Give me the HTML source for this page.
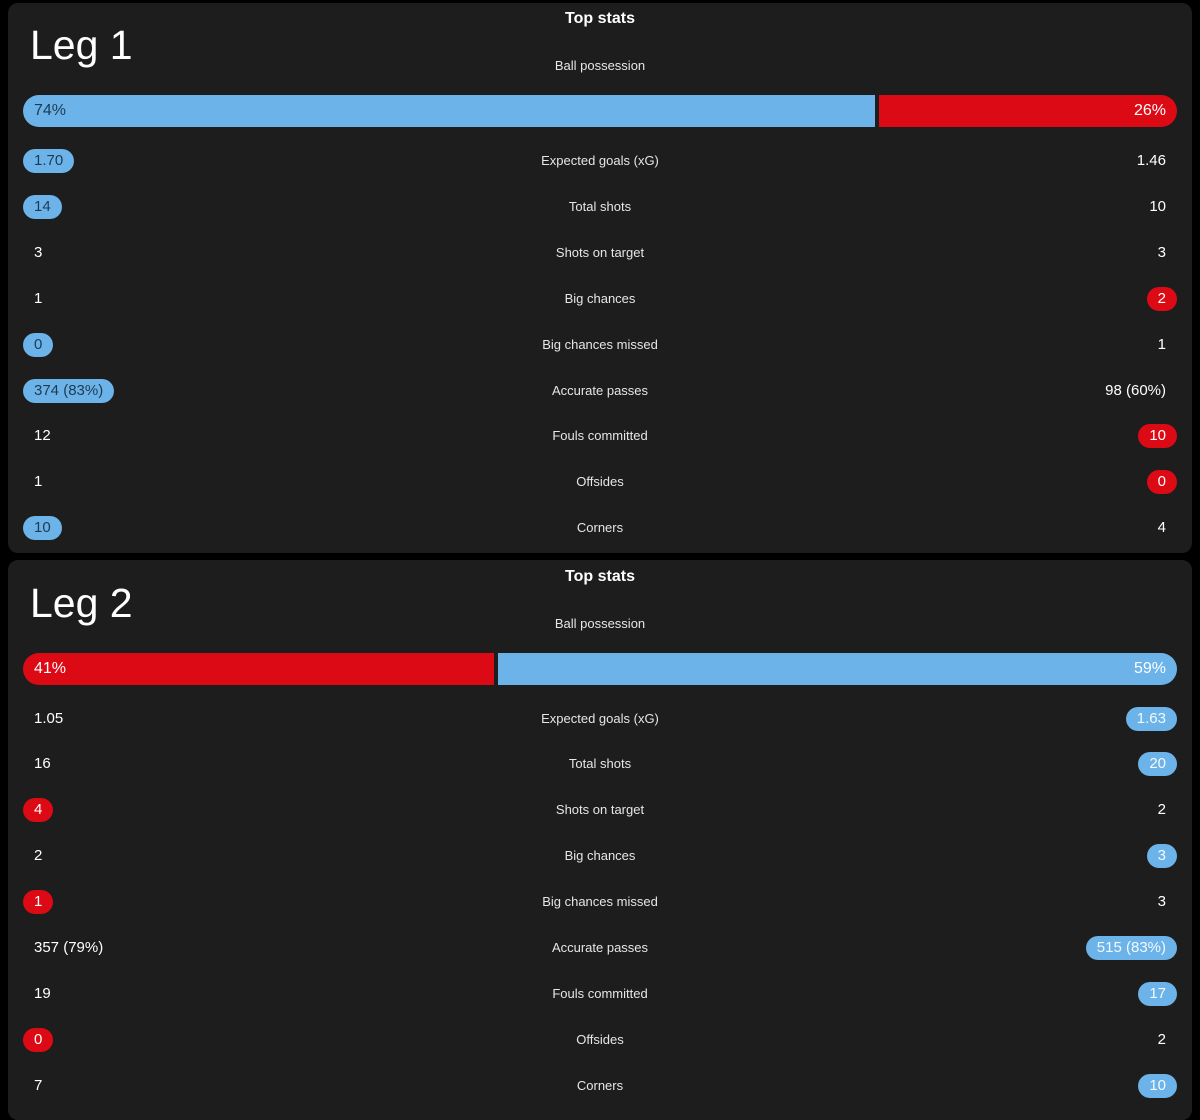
<!DOCTYPE html>
<html><head><meta charset="utf-8">
<style>
body{margin:0;width:1200px;height:1110px;background:#000;overflow:hidden;font-family:"Liberation Sans",sans-serif;position:relative}
.panel{position:absolute;left:8px;width:1184px;background:#1d1d1d;border-radius:10px}
.abs{position:absolute;white-space:nowrap}
.title{color:#fff;font-weight:bold;font-size:16px;width:1200px;left:0;text-align:center}
.leg{color:#fff;font-size:41px;left:30px}
.lab{color:#e6e6e6;font-size:13px;width:1200px;left:0;text-align:center}
.val{font-size:15px;color:#fff;height:24px;line-height:24px;padding:0 11px;border-radius:12px}
.bar{height:32px;line-height:32px;font-size:16px;color:#fff}
</style></head><body>
<div class="panel" style="top:3px;height:550px"></div>
<div class="panel" style="top:560px;height:560px"></div>
<script>
const labels=["Expected goals (xG)","Total shots","Shots on target","Big chances","Big chances missed","Accurate passes","Fouls committed","Offsides","Corners"];
const leg1Home=["1.70","14","3","1","0","374 (83%)","12","1","10"];
const leg1Away=["1.46","10","3","2","1","98 (60%)","10","0","4"];
const leg1Hi=["l","l","","r","l","l","r","r","l"];
const leg2Home=["1.05","16","4","2","1","357 (79%)","19","0","7"];
const leg2Away=["1.63","20","2","3","3","515 (83%)","17","2","10"];
const leg2Hi=["r","r","l","r","l","r","r","l","r"];
const possession1=[74,26];
const possession2=[41,59];
const BLUE="#6bb3e8",RED="#dc0a14";
function mk(cls,txt,css){const d=document.createElement('div');d.className='abs '+cls;d.textContent=txt;Object.assign(d.style,css);document.body.appendChild(d);return d;}
function leg(o,name,poss,home,away,hi,leftCol,rightCol){
  let e=mk('title','Top stats',{top:(o+10)+'px'});
  
  
  e=mk('leg',name,{top:(o+22)+'px'});
  
  
  e=mk('lab','Ball possession',{top:(o+58)+'px'});
  
  
  const x0=23,W=1154,gap=4,split=x0+W*poss[0]/100;
  e=mk('bar',poss[0]+'%',{left:x0+'px',top:(o+95)+'px',width:(split-x0-gap/2-11)+'px',paddingLeft:'11px',background:leftCol,borderRadius:'16px 0 0 16px',color:leftCol==BLUE?'#1f3b52':'#fff'});
  
  
  e=mk('bar',poss[1]+'%',{left:(split+gap/2)+'px',top:(o+95)+'px',width:(x0+W-split-gap/2-11)+'px',paddingRight:'11px',textAlign:'right',background:rightCol,borderRadius:'0 16px 16px 0',color:rightCol==BLUE?'#fff':'#fff'});
  
  
  for(let i=0;i<labels.length;i++){
    const cy=o+161+i*45.9;
    e=mk('lab',labels[i],{top:(cy-8)+'px'});
    
    
    const l=mk('val',home[i],{left:'23px',top:(cy-12)+'px'});
    
    
    if(hi[i]=='l'){l.style.background=leftCol;l.style.color=leftCol==BLUE?'#1f3b52':'#fff';}
    const r=mk('val',away[i],{right:'23px',top:(cy-12)+'px'});
    
    
    if(hi[i]=='r'){r.style.background=rightCol;r.style.color=rightCol==BLUE?'#f4f9fd':'#fff';}
  }
}
leg(0,'Leg 1',possession1,leg1Home,leg1Away,leg1Hi,BLUE,RED);
leg(557.5,'Leg 2',possession2,leg2Home,leg2Away,leg2Hi,RED,BLUE);
</script>
</body></html>
